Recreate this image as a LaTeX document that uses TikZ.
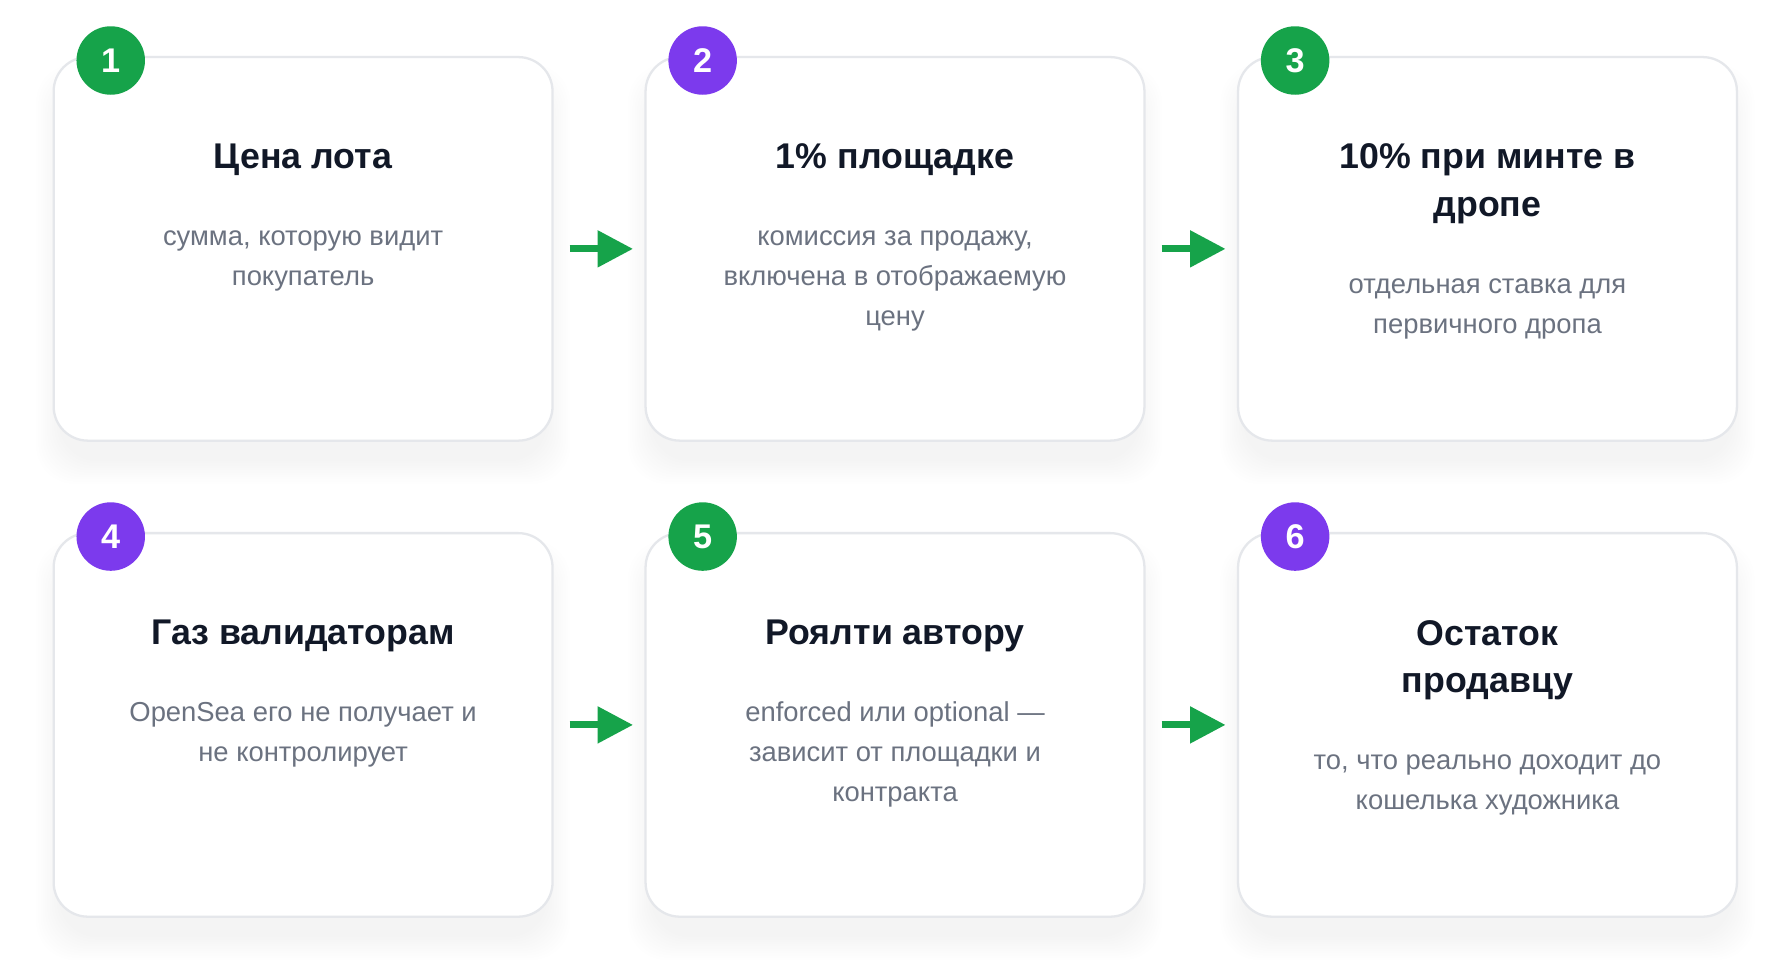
\documentclass[tikz,border=0pt]{standalone}
\usepackage{fontspec}
\setmainfont{Liberation Sans}
\usetikzlibrary{arrows.meta}
\definecolor{stepgreen}{HTML}{16A34A}
\definecolor{steppurple}{HTML}{7C3AED}
\definecolor{cardline}{HTML}{E5E7EB}
\definecolor{titleink}{HTML}{111827}
\definecolor{noteink}{HTML}{6B7280}
\tikzset{
  card/.style={draw=cardline, line width=2pt, fill=white, rounded corners=30pt,
    minimum width=437pt, minimum height=336pt},
  badge/.style={circle, minimum size=60pt, inner sep=0pt, text=white,
    font=\fontsize{30}{30}\selectfont\bfseries},
  cardtitle/.style={anchor=base, inner sep=0pt, text=titleink, align=center,
    font=\fontsize{31.3}{42}\selectfont\bfseries},
  cardnote/.style={anchor=base, inner sep=0pt, text=noteink, align=center,
    font=\fontsize{24}{35}\selectfont},
  flow/.style={-{Triangle[length=31pt,width=31pt]}, line width=6pt, draw=stepgreen,
    shorten <=14pt, shorten >=10pt},
  cardshade/.style={fill=black, opacity=0.003, rounded corners=34pt}
}
\begin{document}
\begin{tikzpicture}[x=1pt,y=-1pt]
    \fill[white] (0,0) rectangle (1568,856);
    \useasboundingbox (0,0) rectangle (1568,856);

    \foreach \cx/\cy in {265.5/218, 784/218, 1303/218, 265.5/635, 784/635, 1303/635}
      \foreach \k in {0,2,...,20}
        \fill[cardshade] (\cx-214-\k, \cy-160-\k+18) rectangle (\cx+214+\k, \cy+168+\k+18);

    \node[card] (c1) at (265.5,218) {};
    \node[card] (c2) at (784,218) {};
    \node[card] (c3) at (1303,218) {};
    \node[card] (c4) at (265.5,635) {};
    \node[card] (c5) at (784,635) {};
    \node[card] (c6) at (1303,635) {};

    \node[badge, fill=stepgreen]  (b1) at ([xshift=51pt,yshift=-4pt]c1.north west) {1};
    \node[badge, fill=steppurple] (b2) at ([xshift=51pt,yshift=-4pt]c2.north west) {2};
    \node[badge, fill=stepgreen]  (b3) at ([xshift=51pt,yshift=-4pt]c3.north west) {3};
    \node[badge, fill=steppurple] (b4) at ([xshift=51pt,yshift=-4pt]c4.north west) {4};
    \node[badge, fill=stepgreen]  (b5) at ([xshift=51pt,yshift=-4pt]c5.north west) {5};
    \node[badge, fill=steppurple] (b6) at ([xshift=51pt,yshift=-4pt]c6.north west) {6};

    \node[cardtitle] (t1) at ([yshift=-99pt]c1.north) {Цена лота};
    \node[cardtitle] (t2) at ([yshift=-99pt]c2.north) {1\% площадке};
    \node[cardtitle] (t3) at ([yshift=-141pt]c3.north) {10\% при минте в\\дропе};
    \node[cardtitle] (t4) at ([yshift=-99pt]c4.north) {Газ валидаторам};
    \node[cardtitle] (t5) at ([yshift=-99pt]c5.north) {Роялти автору};
    \node[cardtitle] (t6) at ([yshift=-141pt]c6.north) {Остаток\\продавцу};

    \node[cardnote] (n1) at ([yshift=-201pt]c1.north) {сумма, которую видит\\покупатель};
    \node[cardnote] (n2) at ([yshift=-236pt]c2.north) {комиссия за продажу,\\включена в отображаемую\\цену};
    \node[cardnote] (n3) at ([yshift=-243pt]c3.north) {отдельная ставка для\\первичного дропа};
    \node[cardnote] (n4) at ([yshift=-201pt]c4.north) {OpenSea его не получает и\\не контролирует};
    \node[cardnote] (n5) at ([yshift=-236pt]c5.north) {enforced или optional —\\зависит от площадки и\\контракта};
    \node[cardnote] (n6) at ([yshift=-243pt]c6.north) {то, что реально доходит до\\кошелька художника};

    \draw[flow] (c1.east) -- (c2.west);
    \draw[flow] (c2.east) -- (c3.west);
    \draw[flow] (c4.east) -- (c5.west);
    \draw[flow] (c5.east) -- (c6.west);
\end{tikzpicture}
\end{document}
